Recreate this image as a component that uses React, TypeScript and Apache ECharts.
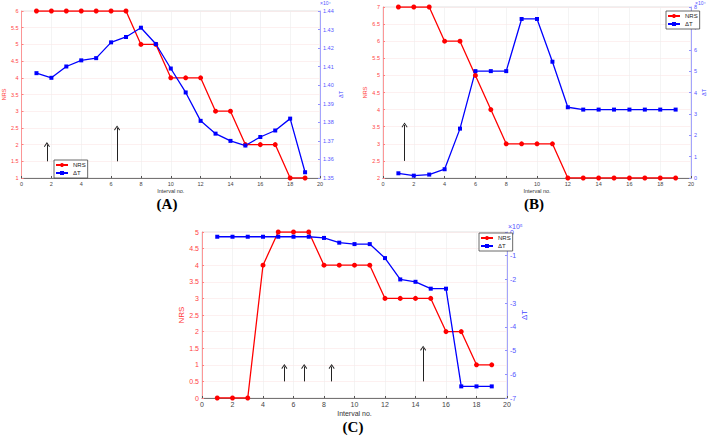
import React, { useEffect, useRef } from "react";
import * as echarts from "echarts";

const intervals = [1, 2, 3, 4, 5, 6, 7, 8, 9, 10, 11, 12, 13, 14, 15, 16, 17, 18, 19];

// Panel A
const nrsA = [6, 6, 6, 6, 6, 6, 6, 5, 5, 4, 4, 4, 3, 3, 2, 2, 2, 1, 1];
const dtA = [1.4065, 1.404, 1.4101, 1.4134, 1.4146, 1.4231, 1.426, 1.431, 1.4222, 1.409, 1.3961, 1.3808, 1.3739, 1.370, 1.3675, 1.3721, 1.3756, 1.382, 1.3531];
const arrowsA = [[1.7, 1.5, 2.0], [6.4, 1.5, 2.5]];

// Panel B
const nrsB = [7, 7, 7, 6, 6, 5, 4, 3, 3, 3, 3, 2, 2, 2, 2, 2, 2, 2, 2];
const dtB = [0.22, 0.11, 0.16, 0.41, 2.31, 5.0, 5.0, 5.0, 7.44, 7.44, 5.44, 3.31, 3.2, 3.2, 3.2, 3.2, 3.2, 3.2, 3.2];
const arrowsB = [[1.4, 2.5, 3.55]];

// Panel C
const nrsC = [0, 0, 0, 4, 5, 5, 5, 4, 4, 4, 4, 3, 3, 3, 3, 2, 2, 1, 1];
const dtC = [-0.2, -0.2, -0.2, -0.2, -0.2, -0.2, -0.2, -0.25, -0.45, -0.51, -0.51, -1.1, -2.0, -2.1, -2.39, -2.39, -6.51, -6.51, -6.51];
const arrowsC = [[5.4, 0.5, 0.95], [6.7, 0.5, 0.95], [8.5, 0.5, 0.95], [14.5, 0.5, 1.5]];

const panelLabels = ["(A)", "(B)", "(C)"];
const expLabels = ["×10⁴", "×10⁴", "×10⁵"];

const RED = "#ff0000";
const BLUE = "#0000ff";
const CHEVRON = "path://M0,6 L4,0 L8,6 L7,6.8 L4,2.2 L1,6.8 Z";

export default function App() {
  const ref = useRef<HTMLDivElement>(null);
  useEffect(() => {
    if (!ref.current) return;
    const chart = echarts.init(ref.current, null, { renderer: "svg" });

    const grids = [
      { left: 14, top: 11, width: 306, height: 167 },
      { left: 383, top: 7, width: 312, height: 171 },
      { left: 202, top: 232, width: 305, height: 166 },
    ];
    const fs = [5.5, 5.5, 7];
    const nrsRanges = [[1, 6], [2, 7], [0, 5]];
    const dtRanges = [[1.35, 1.44, 0.01], [0, 8, 1], [-7, 0, 1]];
    const nrsData = [nrsA, nrsB, nrsC];
    const dtData = [dtA, dtB, dtC];
    const arrows = [arrowsA, arrowsB, arrowsC];

    const xAxis: any[] = [];
    const yAxis: any[] = [];
    const series: any[] = [];
    grids.forEach((g, i) => {
      xAxis.push({
        type: "value",
        gridIndex: i,
        min: 0,
        max: 20,
        interval: 2,
        name: "Interval no.",
        nameLocation: "middle",
        nameGap: i === 2 ? 12 : 9,
        nameTextStyle: { fontSize: i === 2 ? 7 : 5.5, color: "#333", fontFamily: "Liberation Sans" },
        axisLine: { lineStyle: { color: "#555", width: 0.8 } },
        axisTick: { inside: true, length: 2, lineStyle: { color: "#555" } },
        axisLabel: { fontSize: fs[i], color: "#444", margin: 3, fontFamily: "Liberation Sans" },
        splitLine: { show: true, lineStyle: { color: "#ededed", width: 0.6 } },
      });
      yAxis.push({
        type: "value",
        gridIndex: i,
        min: nrsRanges[i][0],
        max: nrsRanges[i][1],
        interval: 0.5,
        position: "left",
        name: "NRS",
        nameLocation: "middle",
        nameRotate: 90,
        nameGap: i === 2 ? 13 : 8,
        nameTextStyle: { fontSize: i === 2 ? 8 : 5.5, color: "#f33", fontFamily: "Liberation Sans" },
        axisLine: { show: true, lineStyle: { color: "#ff8080", width: 0.8 } },
        axisTick: { show: true, inside: true, length: 2, lineStyle: { color: "#ff8080" } },
        axisLabel: {
          fontSize: fs[i],
          color: "#f44",
          margin: 3,
          fontFamily: "Liberation Sans",
          formatter: (v: number) => String(Math.round(v * 10) / 10),
        },
        splitLine: { show: true, lineStyle: { color: "#fce6e6", width: 0.6 } },
      });
      const dr = dtRanges[i];
      yAxis.push({
        type: "value",
        gridIndex: i,
        min: dr[0],
        max: dr[1],
        interval: dr[2],
        position: "right",
        name: "ΔT",
        nameLocation: "middle",
        nameRotate: 90,
        nameGap: i === 0 ? 14 : i === 2 ? 10 : 8,
        nameTextStyle: { fontSize: i === 2 ? 8 : 5.5, color: "#44f", fontFamily: "Liberation Sans" },
        axisLine: { show: true, lineStyle: { color: "#9090ff", width: 0.8 } },
        axisTick: { show: true, inside: true, length: 2, lineStyle: { color: "#9090ff" } },
        axisLabel: {
          fontSize: fs[i],
          color: "#55f",
          margin: 3,
          fontFamily: "Liberation Sans",
          formatter: (v: number) => (i === 0 ? v.toFixed(2) : String(Math.round(v))),
        },
        splitLine: { show: false },
      });
      series.push({
        type: "line",
        name: "NRS",
        xAxisIndex: i,
        yAxisIndex: 2 * i,
        data: intervals.map((x, k) => [x, nrsData[i][k]]),
        symbol: "circle",
        symbolSize: 5,
        itemStyle: { color: RED },
        lineStyle: { color: RED, width: 1.3 },
        markLine: {
          silent: true,
          symbol: ["none", CHEVRON],
          symbolSize: [6, 5],
          label: { show: false },
          lineStyle: { color: "#222", width: 1, type: "solid" },
          data: arrows[i].map((a) => [{ coord: [a[0], a[1]] }, { coord: [a[0], a[2]] }]),
        },
        z: 3,
      });
      series.push({
        type: "line",
        name: "ΔT",
        xAxisIndex: i,
        yAxisIndex: 2 * i + 1,
        data: intervals.map((x, k) => [x, dtData[i][k]]),
        symbol: "rect",
        symbolSize: 4,
        itemStyle: { color: BLUE },
        lineStyle: { color: BLUE, width: 1.3 },
        z: 3,
      });
    });

    const legendBase = {
      data: ["NRS", "ΔT"],
      orient: "vertical",
      itemWidth: 12,
      itemHeight: 5,
      itemGap: 2,
      textStyle: { fontSize: 6, color: "#222", fontFamily: "Liberation Sans" },
      borderColor: "#444",
      borderWidth: 0.8,
      borderRadius: 0,
      padding: [2, 2, 2, 1],
      backgroundColor: "#fff",
      selectedMode: false,
    };

    const option: any = {
      animation: false,
      backgroundColor: "#fff",
      grid: grids.map((g) => ({ ...g, show: true, borderColor: "#d8d8d8", borderWidth: 0.8, backgroundColor: "transparent" })),
      xAxis,
      yAxis,
      series,
      legend: [
        { ...legendBase, left: 54, top: 160 },
        { ...legendBase, left: 666, top: 11 },
        { ...legendBase, left: 479, top: 233 },
      ],
      graphic: [
        { type: "text", x: 167, y: 204, style: { text: panelLabels[0], font: 'bold 15px "Liberation Serif"', fill: "#000", align: "center", verticalAlign: "middle" } },
        { type: "text", x: 534, y: 204, style: { text: panelLabels[1], font: 'bold 15px "Liberation Serif"', fill: "#000", align: "center", verticalAlign: "middle" } },
        { type: "text", x: 353, y: 427, style: { text: panelLabels[2], font: 'bold 15px "Liberation Serif"', fill: "#000", align: "center", verticalAlign: "middle" } },
        { type: "text", x: 320, y: 0, style: { text: expLabels[0], font: '5px "Liberation Sans"', fill: "#55f" } },
        { type: "text", x: 695, y: 0, style: { text: expLabels[1], font: '5px "Liberation Sans"', fill: "#55f" } },
        { type: "text", x: 508, y: 223, style: { text: expLabels[2], font: '7px "Liberation Sans"', fill: "#55f" } },
      ],
    };
    chart.setOption(option);
    return () => chart.dispose();
  }, []);
  return (
    <div
      ref={ref}
      style={{ position: "fixed", left: 0, top: 0, width: 708, height: 436, background: "#fff" }}
    />
  );
}
